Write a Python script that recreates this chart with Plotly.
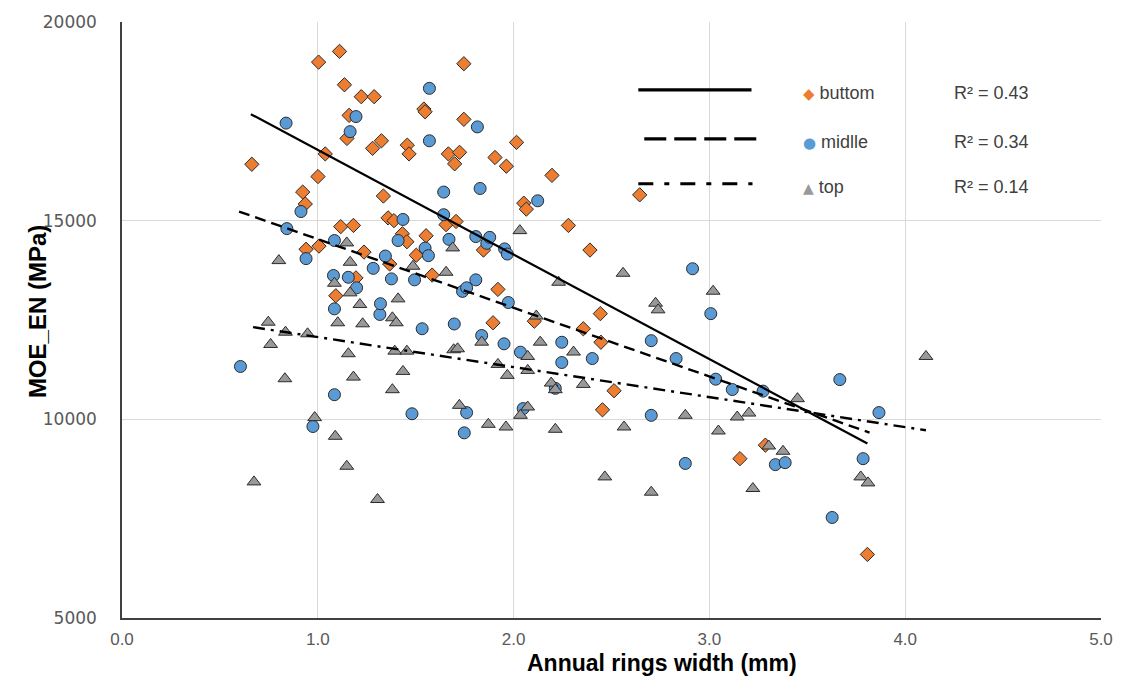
import plotly.graph_objects as go

# ---------------- data ----------------
bottom_x = [0.663, 0.923, 0.936, 0.940, 1.001, 1.004, 1.006, 1.038, 1.092, 1.111,
            1.117, 1.136, 1.149, 1.160, 1.182, 1.195, 1.222, 1.236, 1.280, 1.288,
            1.325, 1.335, 1.359, 1.367, 1.389, 1.432, 1.455, 1.457, 1.466, 1.503,
            1.542, 1.548, 1.553, 1.584, 1.655, 1.667, 1.699, 1.706, 1.724, 1.746,
            1.746, 1.846, 1.895, 1.905, 1.920, 1.963, 2.015, 2.052, 2.065, 2.106,
            2.196, 2.280, 2.356, 2.390, 2.443, 2.446, 2.454, 2.513, 2.644, 3.156,
            3.286, 3.807]
bottom_y = [16420, 15720, 15420, 14280, 16110, 18990, 14360, 16680, 13110, 19260,
            14850, 18420, 17070, 17650, 14880, 13560, 18120, 14210, 16820, 18120,
            17010, 15620, 15070, 13910, 15000, 14670, 14470, 16900, 16680, 14130,
            17810, 17740, 14620, 13630, 14900, 16680, 16430, 14980, 16720, 18950,
            17550, 14260, 12430, 16590, 13270, 16370, 16970, 15440, 15290, 12470,
            16140, 14880, 12280, 14260, 12660, 11940, 10240, 10720, 15650, 9010,
            9350, 6600]

middle_x = [0.605, 0.838, 0.842, 0.914, 0.940, 0.975, 1.080, 1.085, 1.085, 1.085,
            1.156, 1.165, 1.195, 1.198, 1.283, 1.317, 1.320, 1.345, 1.376, 1.410,
            1.435, 1.481, 1.494, 1.533, 1.548, 1.565, 1.570, 1.570, 1.643, 1.643,
            1.670, 1.697, 1.739, 1.748, 1.760, 1.760, 1.807, 1.807, 1.815, 1.829,
            1.837, 1.863, 1.878, 1.951, 1.954, 1.968, 1.973, 2.035, 2.049, 2.123,
            2.213, 2.246, 2.246, 2.402, 2.703, 2.703, 2.830, 2.877, 2.914, 3.007,
            3.032, 3.117, 3.274, 3.337, 3.387, 3.627, 3.666, 3.785, 3.866]
middle_y = [11330, 17455, 14800, 15230, 14045, 9820, 13620, 14500, 12780, 10620,
            13575, 17240, 17620, 13310, 13800, 12640, 12910, 14110, 13535, 14500,
            15030, 10140, 13510, 12280, 14310, 14120, 18330, 17010, 15720, 15150,
            14530, 12400, 13220, 9660, 13310, 10170, 13510, 14600, 17360, 15810,
            12110, 14430, 14580, 11900, 14290, 14160, 12940, 11690, 10270, 15500,
            10780, 11940, 11430, 11530, 11980, 10100, 11530, 8890, 13790, 12660,
            11010, 10750, 10710, 8860, 8910, 7530, 11000, 9010, 10170]

top_x = [0.674, 0.747, 0.759, 0.801, 0.832, 0.835, 0.948, 0.984, 1.085, 1.089,
         1.102, 1.148, 1.148, 1.156, 1.165, 1.165, 1.182, 1.215, 1.229, 1.305,
         1.381, 1.381, 1.393, 1.401, 1.410, 1.435, 1.455, 1.486, 1.655, 1.689,
         1.694, 1.714, 1.723, 1.837, 1.871, 1.920, 1.961, 1.968, 2.032, 2.035,
         2.072, 2.072, 2.072, 2.116, 2.136, 2.192, 2.213, 2.213, 2.230, 2.306,
         2.356, 2.466, 2.559, 2.564, 2.703, 2.725, 2.738, 2.877, 3.019, 3.046,
         3.142, 3.202, 3.222, 3.303, 3.376, 3.450, 3.773, 3.810, 4.106]
top_y = [8425, 12445, 11884, 13995, 11022, 12193, 12153, 10043, 13425, 9573,
         12430, 14440, 8819, 11651, 13953, 13183, 11063, 12889, 12404, 7982,
         12555, 10746, 11716, 12430, 13032, 11206, 11716, 13852, 13701, 14314,
         11751, 11776, 10352, 11942, 9874, 11382, 9807, 11106, 14749, 10101,
         11583, 11231, 10310, 12600, 11942, 10912, 10746, 9749, 13450, 11693,
         10879, 8551, 13676, 9807, 8166, 12922, 12756, 10101, 13224, 9706,
         10058, 10158, 8259, 9329, 9196, 10520, 8551, 8400, 11583]

# linear trendlines (end points)
trend_bottom_x = [0.658, 3.807]
trend_bottom_y = [17680, 9390]
trend_middle_x = [0.598, 3.818]
trend_middle_y = [15230, 9666]
trend_top_x = [0.669, 4.106]
trend_top_y = [12320, 9724]

series_names = ["buttom", "midlle", "top"]
r2_labels = ["R² = 0.43", "R² = 0.34", "R² = 0.14"]

x_ticks = [0, 1, 2, 3, 4, 5]
y_ticks = [5000, 10000, 15000, 20000]

# ---------------- styling ----------------
C_ORANGE = "#ED7D31"
C_BLUE = "#5B9BD5"
C_GRAY = "#999999"
OUTLINE = "#2b2b2b"

fig = go.Figure()

fig.add_trace(go.Scatter(x=bottom_x, y=bottom_y, mode="markers", name=series_names[0],
                         marker=dict(symbol="diamond", size=11, color=C_ORANGE,
                                     line=dict(color=OUTLINE, width=1))))
fig.add_trace(go.Scatter(x=middle_x, y=middle_y, mode="markers", name=series_names[1],
                         marker=dict(symbol="circle", size=12, color=C_BLUE,
                                     line=dict(color=OUTLINE, width=1))))
fig.add_trace(go.Scatter(x=top_x, y=top_y, mode="markers", name=series_names[2],
                         marker=dict(symbol="triangle-up", size=12, color=C_GRAY,
                                     line=dict(color=OUTLINE, width=1))))

fig.add_trace(go.Scatter(x=trend_bottom_x, y=trend_bottom_y, mode="lines",
                         line=dict(color="black", width=2.2), showlegend=False))
fig.add_trace(go.Scatter(x=trend_middle_x, y=trend_middle_y, mode="lines",
                         line=dict(color="black", width=2.4, dash="11px,6px"), showlegend=False))
fig.add_trace(go.Scatter(x=trend_top_x, y=trend_top_y, mode="lines",
                         line=dict(color="black", width=2.4, dash="12px,6px,3px,6px"),
                         showlegend=False))

# ---------------- custom legend block ----------------
L, R, T, B = 122, 17, 21, 61
W, H = 1125 - L - R, 679 - T - B


def px(xp):
    return (xp - L) / W


def py(yp):
    return (679 - B - yp) / H


legend_rows = [89, 138, 183]
line_styles = [dict(dash="solid", width=3.2),
               dict(dash="22px,8px", width=3.2),
               dict(dash="15px,11px,5px,11px", width=3.2)]
line_x = [(642, 756), (648, 762), (642, 757)]
for row, style, (x0, x1) in zip(legend_rows, line_styles, line_x):
    fig.add_shape(type="line", xref="paper", yref="paper",
                  x0=px(x0), x1=px(x1), y0=py(row), y1=py(row),
                  line=dict(color="black", **style))

glyphs = [("◆", C_ORANGE, 15), ("●", C_BLUE, 15), ("▲", C_GRAY, 14)]
for row, name, (g, c, gs), r2 in zip(legend_rows, series_names, glyphs, r2_labels):
    fig.add_annotation(xref="paper", yref="paper", x=px(806), y=py(row + 3),
                       xanchor="left", yanchor="middle", showarrow=False,
                       text=f"<span style='color:{c};font-family:DejaVu Sans;font-size:{gs}px'>{g}</span> {name}",
                       font=dict(family="Liberation Sans, Arial, sans-serif", size=18, color="#404040"))
    fig.add_annotation(xref="paper", yref="paper", x=px(1037), y=py(row + 3),
                       xanchor="right", yanchor="middle", showarrow=False,
                       text=r2,
                       font=dict(family="Liberation Sans, Arial, sans-serif", size=18, color="#404040"))

# axis titles (placed as in the reference)
fig.add_annotation(xref="paper", yref="paper", x=px(666), y=py(663),
                   xanchor="center", yanchor="middle", showarrow=False,
                   text="<b>Annual rings width (mm)</b>",
                   font=dict(family="Liberation Sans, Arial, sans-serif", size=23, color="black"))
fig.add_annotation(xref="paper", yref="paper", x=px(37), y=py(311),
                   xanchor="center", yanchor="middle", showarrow=False, textangle=-90,
                   text="<b>MOE_EN (MPa)</b>",
                   font=dict(family="Liberation Sans, Arial, sans-serif", size=24, color="black"))

fig.update_layout(
    width=1125, height=679,
    margin=dict(l=L, r=R, t=T, b=B),
    paper_bgcolor="white", plot_bgcolor="white",
    showlegend=False,
)

fig.update_xaxes(
    range=[0, 5], tickvals=x_ticks, tickformat=".1f",
    showgrid=True, gridcolor="#D9D9D9", gridwidth=1,
    showline=True, linecolor="#404040", linewidth=1.5,
    zeroline=False, ticks="", ticklabelstandoff=5,
    tickfont=dict(family="Liberation Sans, Arial, sans-serif", size=17, color="#595959"),
)
fig.update_yaxes(
    range=[5000, 20000], tickvals=y_ticks, tickformat="d",
    showgrid=True, gridcolor="#D9D9D9", gridwidth=1,
    showline=True, linecolor="#404040", linewidth=1.5,
    zeroline=False, ticks="", ticklabelstandoff=20,
    tickfont=dict(family="DejaVu Sans, sans-serif", size=17, color="#595959"),
)

fig.write_html("out.html")
